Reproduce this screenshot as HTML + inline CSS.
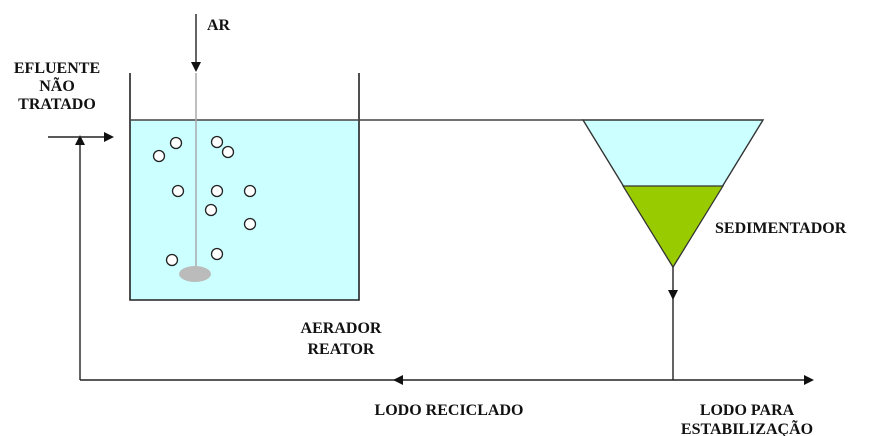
<!DOCTYPE html>
<html><head><meta charset="utf-8"><style>
html,body{margin:0;padding:0;background:#fff;width:886px;height:436px;overflow:hidden}
text{font-family:"Liberation Serif",serif;font-weight:bold;font-size:16px;fill:#111}
</style></head><body>
<svg width="886" height="436" viewBox="0 0 886 436" xmlns="http://www.w3.org/2000/svg">
<rect x="130" y="120" width="229" height="180" fill="#ccffff"/>
<polyline points="130,73 130,300 359,300 359,73" fill="none" stroke="#222" stroke-width="1.6"/>
<line x1="130" y1="120" x2="583" y2="120" stroke="#444" stroke-width="1.5"/>
<line x1="196" y1="73" x2="196" y2="268" stroke="#aaa" stroke-width="1.5"/>
<line x1="196" y1="14" x2="196" y2="64" stroke="#222" stroke-width="1.4"/>
<polygon points="191,62 201,62 196,72" fill="#111"/>
<ellipse cx="195" cy="274" rx="16" ry="8" fill="#bbb"/>
<g fill="#fff" stroke="#222" stroke-width="1.3">
<circle cx="176" cy="143" r="5.5"/><circle cx="159" cy="156" r="5.5"/><circle cx="217" cy="142" r="5.5"/><circle cx="228" cy="152" r="5.5"/>
<circle cx="178" cy="191" r="5.5"/><circle cx="217" cy="191" r="5.5"/><circle cx="250" cy="191" r="5.5"/><circle cx="211" cy="210" r="5.5"/>
<circle cx="250" cy="224" r="5.5"/><circle cx="172" cy="260" r="5.5"/><circle cx="217" cy="254" r="5.5"/>
</g>
<polygon points="583,120 763,120 673,267" fill="#ccffff" stroke="#333" stroke-width="1.4"/>
<polygon points="623,186 723,186 673,267" fill="#99cc00" stroke="#333" stroke-width="1.2"/>
<line x1="673" y1="267" x2="673" y2="380" stroke="#222" stroke-width="1.4"/>
<polygon points="668,290 678,290 673,300" fill="#111"/>
<line x1="80" y1="380" x2="805" y2="380" stroke="#222" stroke-width="1.5"/>
<polygon points="804,375 814,380 804,385" fill="#111"/>
<polygon points="403,375 393,380 403,385" fill="#111"/>
<line x1="80" y1="380" x2="80" y2="142" stroke="#222" stroke-width="1.4"/>
<polygon points="75,145 85,145 80,135" fill="#111"/>
<line x1="48" y1="137" x2="106" y2="137" stroke="#222" stroke-width="1.4"/>
<polygon points="104,132 114,137 104,142" fill="#111"/>
<text x="207" y="30">AR</text>
<text x="57" y="73" text-anchor="middle">EFLUENTE</text>
<text x="57" y="91" text-anchor="middle">NÃO</text>
<text x="57" y="109" text-anchor="middle">TRATADO</text>
<text x="715" y="233">SEDIMENTADOR</text>
<text x="341" y="333" text-anchor="middle">AERADOR</text>
<text x="341" y="354" text-anchor="middle">REATOR</text>
<text x="449" y="415" text-anchor="middle">LODO RECICLADO</text>
<text x="747" y="415" text-anchor="middle">LODO PARA</text>
<text x="747" y="434" text-anchor="middle">ESTABILIZAÇÃO</text>
</svg>
</body></html>
